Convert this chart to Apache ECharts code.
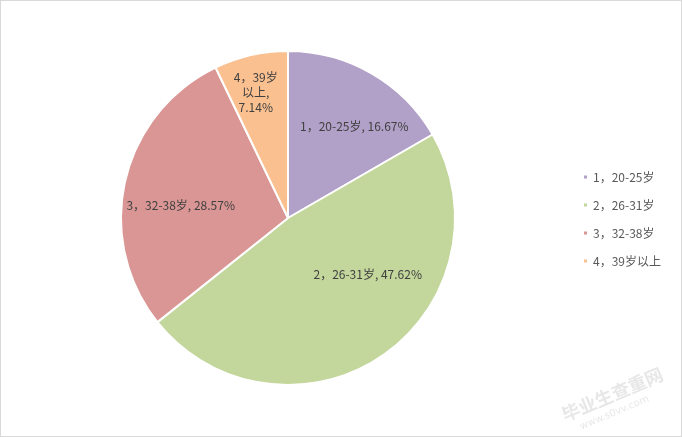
<!DOCTYPE html>
<html><head><meta charset="utf-8">
<script src="https://cdn.jsdelivr.net/npm/echarts@6/dist/echarts.min.js"></script>
<style>html,body{margin:0;padding:0;background:#fff}#c{width:680px;height:435px;border:1px solid #d9d9d9}</style>
</head><body><div id="c"></div>
<script>
const categories = ['1，20-25岁', '2，26-31岁', '3，32-38岁', '4，39岁以上'];
const values = [7, 20, 12, 3];
const labelTexts = ['1，20-25岁, 16.67%', '2，26-31岁, 47.62%', '3，32-38岁, 28.57%', '4，39岁\n以上,\n7.14%'];
const colors = ['#b1a0c7', '#c3d69b', '#d99694', '#fac090'];
// label nudges (Excel "best fit" placement differs from ECharts 'inside')
const labelNudge = [[23, -17], [31, -15], [-23, 7], [-13, -41]];

const chart = echarts.init(document.getElementById('c'));
chart.setOption({
  backgroundColor: '#fff',
  color: colors,
  legend: {
    orient: 'vertical', left: 576, top: 164,
    itemWidth: 5, itemHeight: 5, itemGap: 14, icon: 'rect',
    textStyle: {color: '#595959', fontSize: 12, fontFamily: 'Noto Sans CJK SC', lineHeight: 14},
    data: categories
  },
  series: [{
    type: 'pie', center: [287, 217], radius: 167, startAngle: 90, clockwise: true,
    avoidLabelOverlap: false,
    itemStyle: {borderColor: '#fff', borderWidth: 2},
    label: {position: 'inside', color: '#404040', fontSize: 12, fontFamily: 'Noto Sans CJK SC', lineHeight: 15,
      overflow: 'none',
      formatter: p => labelTexts[p.dataIndex]},
    labelLine: {show: false},
    labelLayout: p => ({dx: labelNudge[p.dataIndex][0], dy: labelNudge[p.dataIndex][1], hideOverlap: false}),
    emphasis: {disabled: true},
    data: categories.map((n, i) => ({name: n, value: values[i]}))
  }],
  graphic: [{
    type: 'group', left: 558, top: 364, rotation: 0.4,
    children: [
      {type: 'text', style: {text: '毕业生查重网', fill: 'rgba(170,170,170,0.28)', font: 'bold 18px "Noto Sans CJK SC"'}},
      {type: 'text', x: 12, y: 22, style: {text: 'www.s0vv.com', fill: 'rgba(170,170,170,0.28)', font: '10px "DejaVu Sans"'}}
    ]
  }]
});
</script></body></html>
